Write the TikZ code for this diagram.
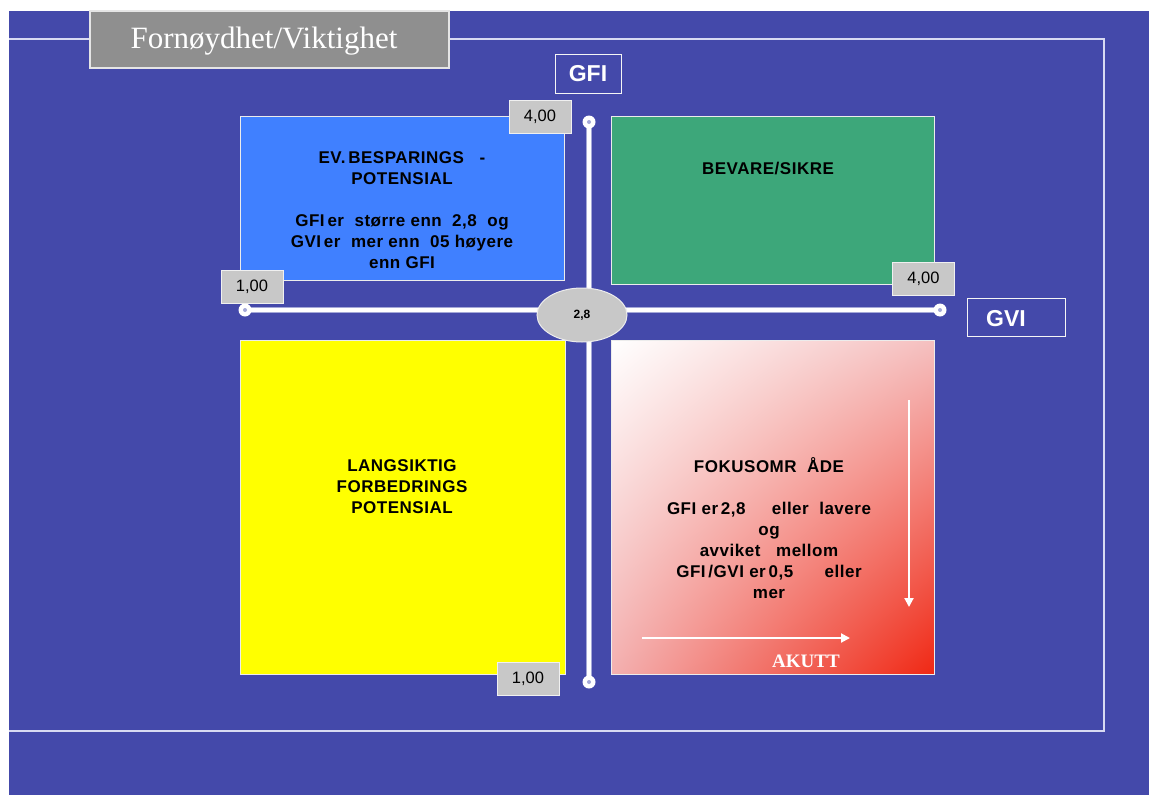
\documentclass[tikz,border=0pt]{standalone}
\usepackage{fontspec}
\setmainfont{Liberation Serif}
\setsansfont{Liberation Sans}
\usetikzlibrary{arrows.meta,shapes.geometric,shadings}
\definecolor{bg}{HTML}{4449AA}
\definecolor{frameln}{HTML}{D8DAF2}
\definecolor{tgray}{HTML}{8F8F8F}
\definecolor{lgray}{HTML}{C8C8C8}
\definecolor{qblue}{HTML}{4080FF}
\definecolor{qgreen}{HTML}{3DA77A}
\definecolor{qyellow}{HTML}{FFFF00}
\definecolor{pinkc}{RGB}{245,192,192}
\definecolor{pinkd}{RGB}{243,176,176}
\definecolor{redc}{RGB}{240,40,20}
\definecolor{axedge}{HTML}{A4A8D8}
\begin{document}
\begin{tikzpicture}[x=1pt,y=-1pt,
  frameline/.style={draw=frameln,line width=1.5pt},
  quad/.style={draw=white!85!gray,line width=0.8pt,inner sep=0pt},
  qtext/.style={align=center,font=\sffamily\bfseries\fontsize{17}{21}\selectfont\addfontfeature{LetterSpace=3},text=black,inner sep=0pt},
  numbox/.style={fill=lgray,draw=white!88!gray,line width=1pt,minimum width=62pt,minimum height=33pt,inner sep=0pt,font=\sffamily\fontsize{16.5}{18}\selectfont,text=black},
  labbox/.style={draw=white!92!gray,line width=1pt,inner sep=0pt},
  labtext/.style={text=white,font=\sffamily\bfseries\fontsize{23}{26}\selectfont,inner sep=0pt},
  axisunder/.style={line width=6pt,draw=axedge},
  axisline/.style={line width=3.5pt,draw=white},
  warrow/.style={draw=white,line width=2pt,-{Triangle[width=9pt,length=9pt]}}
]
\useasboundingbox (0,0) rectangle (1149,795);
\fill[white] (0,0) rectangle (1149,795);
\fill[bg] (9,11) rectangle (1149,795);

% frame
\draw[frameline] (9,39) -- (90,39);
\draw[frameline] (449,39) -- (1104,39) -- (1104,731) -- (9,731);

% title
\node[fill=tgray,draw=white!80!gray,line width=1.2pt,minimum width=359pt,minimum height=57pt,inner sep=0pt] (title) at (269.5,39.5) {};
\node[text=white,font=\fontsize{31}{33}\selectfont,inner sep=0pt] (titletext) at (264,41) {Fornøydhet/Viktighet};

% quadrants
\node[quad,fill=qblue,minimum width=324pt,minimum height=164pt] (qa) at (402,198) {};
\node[quad,fill=qgreen,minimum width=323pt,minimum height=168pt] (qb) at (772.5,200) {};
\node[quad,fill=qyellow,minimum width=325pt,minimum height=334pt] (qc) at (402.5,507) {};
\node[quad,upper left=white,upper right=pinkc,lower left=pinkd,lower right=redc,minimum width=323pt,minimum height=334pt] (qd) at (772.5,507) {};

\node[qtext] (ta) at (402,210) {EV.\,BESPARINGS\ \ \ -\\POTENSIAL\\[21pt]GFI\,er\ \ større enn\ \ 2,8\ \ og\\GVI\,er\ \ mer enn\ \ 05 høyere\\enn GFI};
\node[qtext] (tb) at (768,169) {BEVARE/SIKRE};
\node[qtext] (tc) at (402,487) {LANGSIKTIG\\FORBEDRINGS\\POTENSIAL};
\node[qtext] (td) at (769,528) {FOKUSOMR\ \ ÅDE\\[21pt]GFI\ er\,2,8\ \ \ \ \ eller\ \ lavere\\og\\avviket\ \ \ mellom\\GFI\,/GVI\ er\,0,5\ \ \ \ \ \ eller\\mer};

% arrows in focus area
\coordinate (a1s) at (909,400);
\coordinate (a1e) at (909,607);
\coordinate (a2s) at (642,638);
\coordinate (a2e) at (850,638);
\draw[warrow] (a1s) -- (a1e);
\draw[warrow] (a2s) -- (a2e);
\node[text=white,font=\bfseries\fontsize{19}{20}\selectfont,inner sep=0pt] (akutt) at (806,661) {AKUTT};

% axes
\coordinate (vt) at (589,122);
\coordinate (vb) at (589,682);
\coordinate (hl) at (245,310);
\coordinate (hr) at (940,310);
\draw[axisunder] (vt) -- (vb);
\draw[axisunder] (hl) -- (hr);
\draw[axisline] (vt) -- (vb);
\draw[axisline] (hl) -- (hr);
\foreach \p in {vt,vb,hl,hr}{
  \fill[white] (\p) circle (6.5pt);
  \fill[axedge] (\p) circle (2pt);
}

% centre ellipse
\node[ellipse,fill=lgray,draw=white!85!gray,line width=1pt,minimum width=90pt,minimum height=54pt,inner sep=0pt,font=\sffamily\bfseries\fontsize{12}{14}\selectfont] (centre) at (582,315) {2,8};

% number boxes
\node[numbox] (n1) at (540,116.5) {4,00};
\node[numbox] (n2) at (252,286.5) {1,00};
\node[numbox] (n3) at (923.5,279) {4,00};
\node[numbox] (n4) at (528,678.5) {1,00};

% axis labels
\node[labbox,minimum width=66pt,minimum height=39pt] (gfi) at (588,73.5) {};
\node[labtext] (gfit) at (588,74) {GFI};
\node[labbox,minimum width=98pt,minimum height=38pt] (gvi) at (1016,317) {};
\node[labtext] (gvit) at (1006,319) {GVI};
\end{tikzpicture}
\end{document}
